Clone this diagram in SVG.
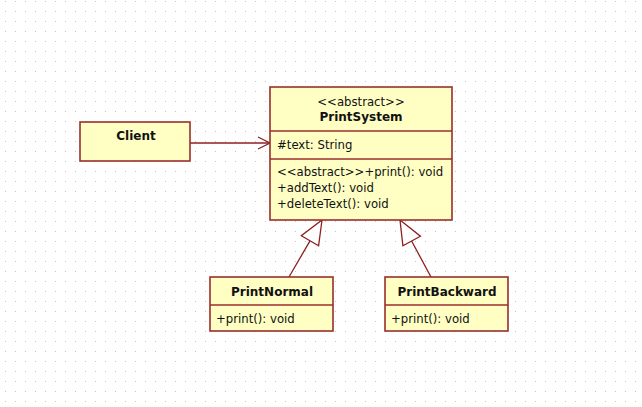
<svg xmlns="http://www.w3.org/2000/svg" width="642" height="407" viewBox="0 0 642 407">
<style>
.box{fill:#ffffc4;stroke:#9a2e2e;stroke-width:1.6}
.sep{stroke:#9a2e2e;stroke-width:1.6}
.t{font-family:"DejaVu Sans",Verdana,sans-serif;font-size:11.7px;fill:#111}
.b{font-family:"DejaVu Sans",Verdana,sans-serif;font-size:12px;font-weight:bold;fill:#111;text-anchor:middle}
.c{text-anchor:middle}
.ln{stroke:#8e1f1f;stroke-width:1.3;fill:none}
.tri{stroke:#8e1f1f;stroke-width:1.3;fill:#ffffff}
</style>
<defs>
<pattern id="grid" width="10" height="10" patternUnits="userSpaceOnUse">
<rect x="5" y="1" width="1" height="1" fill="#c4c4c4"/>
</pattern>
</defs>
<rect width="642" height="407" fill="#ffffff"/>
<rect width="642" height="407" fill="url(#grid)"/>
<g id="connectors">
<line class="ln" x1="190" y1="143" x2="270" y2="143"/>
<polyline class="ln" points="258,137 270,143 258,149"/>
<line class="ln" x1="310" y1="240.8" x2="289" y2="277"/>
<polygon class="tri" points="322,220 318.6,245.8 301.3,235.7"/>
<line class="ln" x1="411.6" y1="241" x2="431" y2="277"/>
<polygon class="tri" points="400,220 420.4,236.2 402.9,245.8"/>
</g>
<g id="Client">
<rect class="box" x="80" y="122" width="110" height="39"/>
<text class="b" x="136" y="140">Client</text>
</g>
<g id="PrintSystem">
<rect class="box" x="270" y="87" width="182" height="133"/>
<line class="sep" x1="270" y1="131" x2="452" y2="131"/>
<line class="sep" x1="270" y1="159" x2="452" y2="159"/>
<text class="t c" x="361" y="106">&lt;&lt;abstract&gt;&gt;</text>
<text class="b" x="361" y="121">PrintSystem</text>
<text class="t" x="277" y="149">#text: String</text>
<text class="t" x="277" y="176">&lt;&lt;abstract&gt;&gt;+print(): void</text>
<text class="t" x="277" y="192">+addText(): void</text>
<text class="t" x="277" y="208">+deleteText(): void</text>
</g>
<g id="PrintNormal">
<rect class="box" x="210" y="277" width="123" height="54"/>
<line class="sep" x1="210" y1="305" x2="333" y2="305"/>
<text class="b" x="272" y="296">PrintNormal</text>
<text class="t" x="216" y="323">+print(): void</text>
</g>
<g id="PrintBackward">
<rect class="box" x="385" y="277" width="123" height="54"/>
<line class="sep" x1="385" y1="305" x2="508" y2="305"/>
<text class="b" x="447" y="296">PrintBackward</text>
<text class="t" x="391" y="323">+print(): void</text>
</g>
</svg>
